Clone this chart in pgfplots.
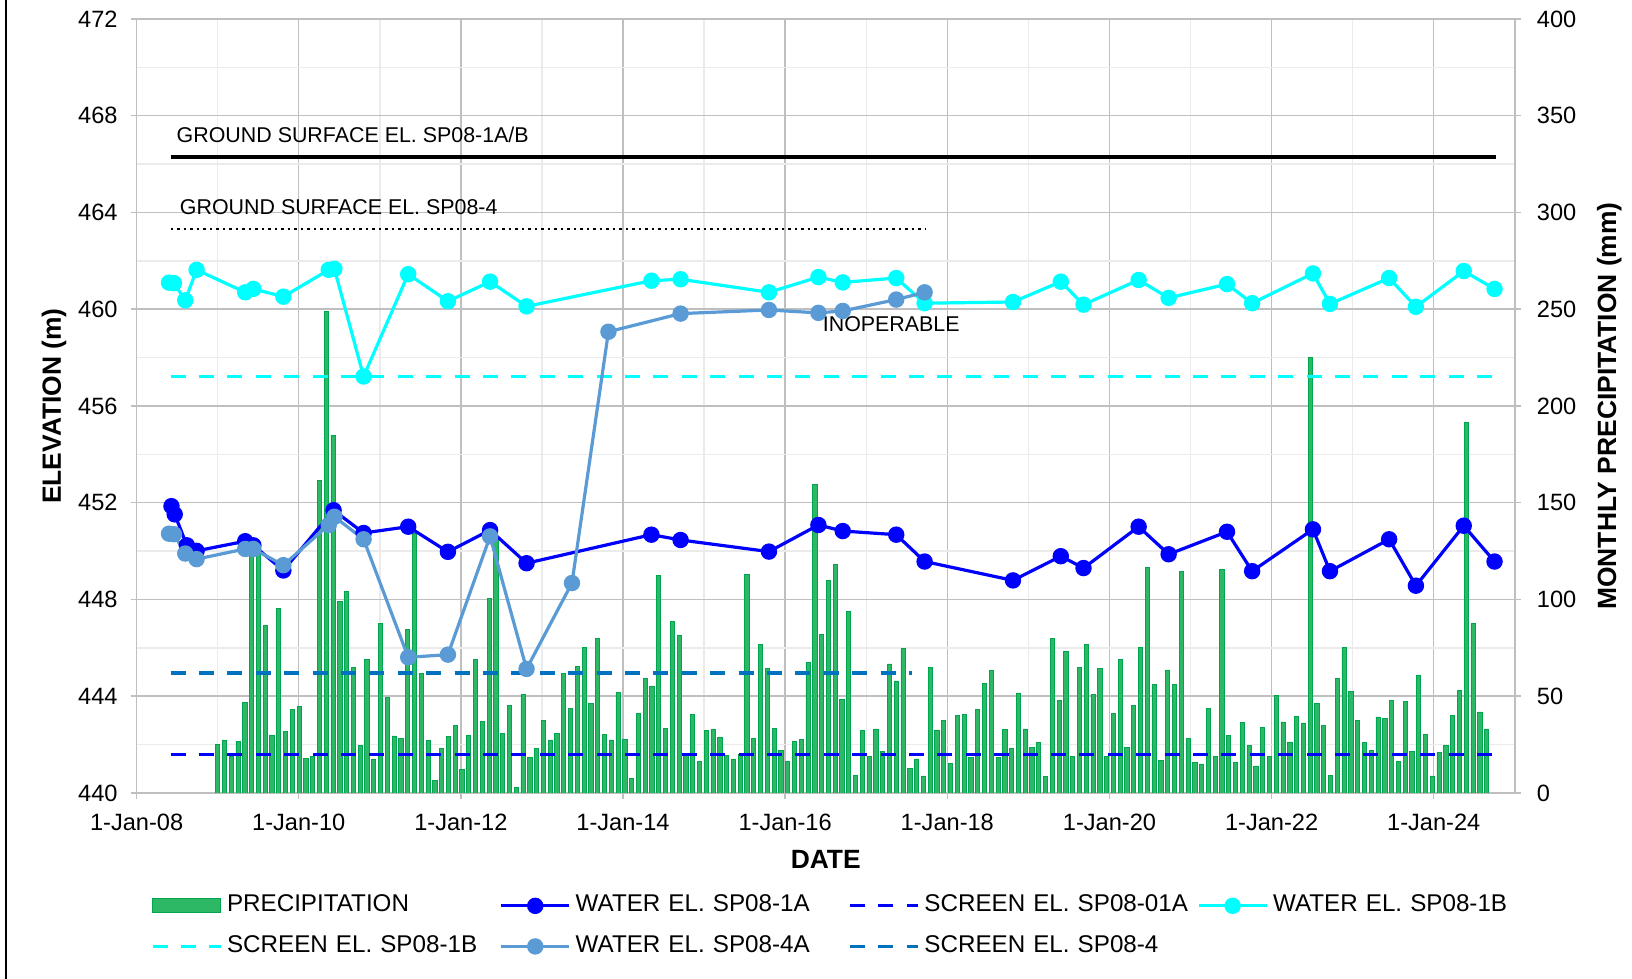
\documentclass[border=0pt]{standalone}
\usepackage{fontspec}
\setmainfont{Liberation Sans}
\usepackage{pgfplots}
\pgfplotsset{compat=1.18}
\definecolor{cA}{HTML}{0000FF}
\definecolor{cB}{HTML}{00FFFF}
\definecolor{cC}{HTML}{5B9BD5}
\definecolor{cS}{HTML}{0070C0}
\definecolor{gridmaj}{HTML}{BFBFBF}
\definecolor{gridmin}{HTML}{EBEBEB}
\definecolor{barfill}{HTML}{2DB866}
\definecolor{baredge}{HTML}{00A550}
\begin{document}
\begin{tikzpicture}[x=1pt,y=1pt]
\useasboundingbox (0,0) rectangle (816,489.5);
\draw[black, line width=0.7pt] (3,0) -- (3,489.5);
\pgfplotsset{base/.style={scale only axis, width=689.1pt, height=387pt, at={(68.3pt,93pt)}, anchor=south west,
  tick label style={font=\fontsize{11.8}{14}\selectfont}, /pgf/number format/assume math mode=true,
  label style={font=\bfseries\fontsize{13.2}{15}\selectfont}}}
% grid and left/bottom axis
\begin{axis}[base, xmin=2008, xmax=2025, ymin=440, ymax=472,
  xtick={2008,2010,...,2024},
  xticklabels={1-Jan-08,1-Jan-10,1-Jan-12,1-Jan-14,1-Jan-16,1-Jan-18,1-Jan-20,1-Jan-22,1-Jan-24},
  minor xtick={2009,2011,...,2025}, ytick={440,444,...,472}, minor ytick={442,446,...,470},
  grid=both, major grid style={draw=gridmaj, line width=0.75pt}, minor grid style={draw=gridmin, line width=0.75pt},
  axis line style={draw=gridmaj, line width=0.75pt},
  tick align=outside, major tick length=3pt, minor tick length=0pt, tick style={draw=gridmaj, line width=0.75pt},
  xtick pos=left, ytick pos=left,
  yticklabel style={xshift=-3pt}, xticklabel style={yshift=-4pt},
  xlabel={DATE}, ylabel={ELEVATION (m)},
  xlabel style={at={(axis description cs:0.5,-0.0853)}, anchor=center},
  ylabel style={at={(axis description cs:-0.0599,0.5)}, anchor=center}]
\end{axis}
% precipitation bars, right axis
\begin{axis}[base, xmin=-11.95, xmax=191.16, ymin=0, ymax=400,
  axis x line=none, axis y line*=right, ytick={0,50,...,400},
  axis line style={draw=gridmaj, line width=0.75pt},
  tick align=outside, major tick length=3pt, tick style={draw=gridmaj, line width=0.75pt},
  yticklabel style={xshift=4.5pt},
  ylabel={MONTHLY PRECIPITATION (mm)},
  ylabel style={at={(axis description cs:1.0685,0.5)}, anchor=center},
  ybar, bar width=0.62]
\addplot[fill=barfill, draw=baredge, line width=0.4pt] coordinates {
(0,25.2)(1,27.4)(2,18.8)(3,26.6)(4,46.7)(5,125)(6,124)(7,86.4)(8,30.0)(9,95.5)(10,31.7)(11,43.4)
(12,44.5)(13,17.9)(14,18.8)(15,161.6)(16,249)(17,184.9)(18,99.0)(19,104.1)(20,64.8)(21,24.5)(22,69.0)(23,17.6)
(24,87.8)(25,49.5)(26,29.5)(27,28.3)(28,84.3)(29,134)(30,61.9)(31,27.1)(32,6.7)(33,22.8)(34,29.3)(35,34.8)
(36,12.2)(37,29.7)(38,69.0)(39,37.1)(40,100.7)(41,131)(42,30.7)(43,45.2)(44,2.8)(45,51.0)(46,18.4)(47,22.8)
(48,37.4)(49,27.4)(50,30.9)(51,61.9)(52,43.8)(53,65.5)(54,75.2)(55,46.4)(56,79.7)(57,30.3)(58,27.4)(59,52.1)
(60,27.8)(61,7.6)(62,41.2)(63,59.0)(64,55.3)(65,112.6)(66,33.4)(67,88.6)(68,81.7)(69,20.5)(70,40.7)(71,16.2)
(72,32.4)(73,32.8)(74,28.6)(75,19.3)(76,17.6)(77,19.7)(78,112.8)(79,28.3)(80,76.9)(81,64.5)(82,33.4)(83,22.1)
(84,16.2)(85,26.6)(86,27.9)(87,67.6)(88,159.4)(89,82.1)(90,109.8)(91,117.9)(92,48.4)(93,93.8)(94,9.0)(95,32.4)
(96,18.8)(97,33.1)(98,21.4)(99,66.7)(100,57.9)(101,74.5)(102,12.8)(103,17.6)(104,8.8)(105,65.0)(106,32.6)(107,37.6)
(108,15.3)(109,40.0)(110,40.7)(111,18.4)(112,43.3)(113,56.7)(114,63.4)(115,18.4)(116,32.9)(117,22.8)(118,51.7)(119,33.1)
(120,23.6)(121,25.9)(122,8.6)(123,80.0)(124,47.9)(125,73.1)(126,18.8)(127,65.0)(128,76.7)(129,50.7)(130,64.5)(131,18.8)
(132,41.2)(133,68.8)(134,23.4)(135,45.2)(136,75.2)(137,116.6)(138,55.9)(139,16.7)(140,63.6)(141,55.9)(142,114.5)(143,28.1)
(144,15.9)(145,15.0)(146,43.6)(147,18.8)(148,115.7)(149,29.8)(150,15.9)(151,36.6)(152,24.7)(153,14.0)(154,33.8)(155,19.0)
(156,50.2)(157,36.7)(158,26.4)(159,39.7)(160,36.2)(161,225)(162,46.4)(163,34.8)(164,9.0)(165,59.3)(166,75.0)(167,52.6)
(168,37.4)(169,25.9)(170,21.9)(171,39.3)(172,38.4)(173,47.9)(174,16.2)(175,47.2)(176,21.4)(177,61.0)(178,30.3)(179,8.8)
(180,21.0)(181,24.8)(182,40.3)(183,52.8)(184,191.3)(185,87.4)(186,41.9)(187,33.1)
};
\end{axis}
% elevation lines
\begin{axis}[base, xmin=2008, xmax=2025, ymin=440, ymax=472, hide axis, clip=false,
  legend image code/.code={\draw[mark repeat=2,mark phase=2,#1] plot coordinates {(0pt,0pt) (17pt,0pt) (34pt,0pt)};},
  legend style={at={(axis description cs:0.0104,-0.1264)}, anchor=north west, draw=none, fill=none,
    inner sep=0pt, outer sep=0pt, legend columns=4, font=\fontsize{12.1}{14}\selectfont,
    nodes={inner sep=2pt, text width=134.3pt, text height=8.5pt, text depth=2.5pt},
    /tikz/every odd column/.style={column sep=0.45pt}, row sep=5.3pt},
  legend cell align=left,
  scrdash/.style={line width=1.6pt, dash pattern=on 7.5pt off 6.7pt},
  water/.style={line width=1.6pt, mark=*, mark size=3.3pt}]
\addplot[black, line width=1.7pt, forget plot] coordinates {(2008.42,466.3) (2024.77,466.3)};
\addplot[black, line width=1.2pt, dash pattern=on 1.2pt off 2.05pt, forget plot] coordinates {(2008.42,463.31) (2017.74,463.31)};
\addlegendimage{legend image code/.code={\draw[fill=barfill,draw=baredge,line width=0.6pt] (0pt,-3.5pt) rectangle (34pt,3.5pt);}}
\addlegendentry{PRECIPITATION}
\addplot[cA, water] coordinates {
(2008.43,451.86)(2008.47,451.52)(2008.62,450.24)(2008.74,450.01)(2009.34,450.41)(2009.44,450.24)(2009.81,449.20)
(2010.43,451.69)(2010.80,450.75)(2011.35,451.01)(2011.84,449.97)(2012.36,450.87)(2012.81,449.50)(2014.35,450.68)
(2014.71,450.46)(2015.80,449.98)(2016.41,451.08)(2016.71,450.83)(2017.37,450.68)(2017.72,449.57)(2018.81,448.79)
(2019.40,449.79)(2019.68,449.30)(2020.36,451.01)(2020.73,449.87)(2021.45,450.80)(2021.76,449.17)(2022.51,450.90)
(2022.72,449.17)(2023.45,450.49)(2023.78,448.57)(2024.37,451.05)(2024.75,449.57)};
\addlegendentry{WATER EL. SP08-1A}
\addplot[cA, scrdash] coordinates {(2008.42,441.6) (2024.77,441.6)};
\addlegendentry{SCREEN EL. SP08-01A}
\addplot[cB, water] coordinates {
(2008.40,461.10)(2008.46,461.08)(2008.60,460.37)(2008.74,461.63)(2009.34,460.70)(2009.44,460.84)(2009.81,460.52)
(2010.37,461.63)(2010.44,461.67)(2010.80,457.22)(2011.35,461.45)(2011.84,460.33)(2012.36,461.14)(2012.81,460.12)
(2014.35,461.18)(2014.71,461.24)(2015.80,460.70)(2016.41,461.33)(2016.71,461.11)(2017.37,461.29)(2017.72,460.25)
(2018.81,460.30)(2019.40,461.14)(2019.68,460.19)(2020.36,461.21)(2020.73,460.47)(2021.45,461.04)(2021.76,460.25)
(2022.51,461.48)(2022.72,460.22)(2023.45,461.29)(2023.78,460.10)(2024.37,461.58)(2024.75,460.84)};
\addlegendentry{WATER EL. SP08-1B}
\addplot[cB, scrdash] coordinates {(2008.42,457.22) (2024.77,457.22)};
\addlegendentry{SCREEN EL. SP08-1B}
\addplot[cC, water] coordinates {
(2008.40,450.72)(2008.46,450.70)(2008.60,449.90)(2008.74,449.67)(2009.34,450.09)(2009.44,450.09)(2009.81,449.42)
(2010.37,451.08)(2010.44,451.42)(2010.80,450.49)(2011.35,445.61)(2011.84,445.72)(2012.36,450.61)(2012.81,445.13)
(2013.37,448.68)(2013.82,459.07)(2014.71,459.82)(2015.80,459.97)(2016.41,459.85)(2016.71,459.93)(2017.37,460.40)
(2017.72,460.70)};
\addlegendentry{WATER EL. SP08-4A}
\addplot[cS, scrdash] coordinates {(2008.42,444.96) (2017.57,444.96)};
\addlegendentry{SCREEN EL. SP08-4}
\node[anchor=base west, inner sep=0pt, font=\fontsize{10.7}{12}\selectfont] at (axis cs:2008.49,466.91) {GROUND SURFACE EL. SP08-1A/B};
\node[anchor=base west, inner sep=0pt, font=\fontsize{10.7}{12}\selectfont] at (axis cs:2008.53,463.90) {GROUND SURFACE EL. SP08-4};
\node[anchor=base west, inner sep=0pt, font=\fontsize{10.7}{12}\selectfont] at (axis cs:2016.46,459.08) {INOPERABLE};
\end{axis}
\end{tikzpicture}
\end{document}
